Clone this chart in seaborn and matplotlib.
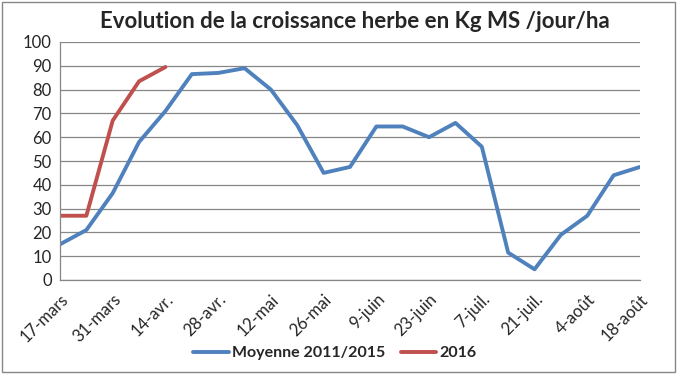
import numpy as np
import pandas as pd
import matplotlib
matplotlib.use("Agg")
import matplotlib.pyplot as plt
import seaborn as sns
from matplotlib.patches import Rectangle

# weekly dates, 17 March -> 18 August
semaines = ["17-mars", "24-mars", "31-mars", "7-avr.", "14-avr.", "21-avr.", "28-avr.",
            "5-mai", "12-mai", "19-mai", "26-mai", "2-juin", "9-juin", "16-juin",
            "23-juin", "30-juin", "7-juil.", "14-juil.", "21-juil.", "28-juil.",
            "4-août", "11-août", "18-août"]
moyenne = [15, 21, 36.5, 58, 71, 86.5, 87, 89, 80, 65, 45, 47.5, 64.5, 64.5,
           60, 66, 56, 11.5, 4.5, 19, 27, 44, 47.5]
annee_2016 = [27, 27, 67, 83.5, 89.5]

df = pd.concat([
    pd.DataFrame({"semaine": np.arange(len(moyenne)), "valeur": moyenne,
                  "serie": "Moyenne 2011/2015"}),
    pd.DataFrame({"semaine": np.arange(len(annee_2016)), "valeur": annee_2016,
                  "serie": "2016"}),
])

sns.set_style("white")
plt.rcParams["font.family"] = ["Lato", "DejaVu Sans"]

fig = plt.figure(figsize=(6.81, 3.82), dpi=100)
ax = fig.add_axes([60 / 681, 102 / 382, 580 / 681, 238 / 382])

sns.lineplot(data=df, x="semaine", y="valeur", hue="serie",
             palette={"Moyenne 2011/2015": "#4F81BD", "2016": "#C0504D"},
             linewidth=2.8, ax=ax, legend=True)

ax.set_xlim(0, len(semaines) - 1)
ax.set_ylim(0, 100)
ax.set_yticks(range(0, 101, 10))
ax.yaxis.grid(True, color="#878787", linewidth=0.9)
ax.set_axisbelow(True)
ax.set_xticks(range(0, len(semaines), 2))
ax.set_xticklabels(semaines[::2], rotation=45, ha="right", rotation_mode="anchor")
ax.tick_params(axis="x", direction="out", length=4, color="#878787", labelsize=12, pad=4)
ax.tick_params(axis="y", length=0, labelsize=12, pad=6)
ax.set_xlabel("")
ax.set_ylabel("")
for s in ["top", "right"]:
    ax.spines[s].set_visible(False)
for s in ["left", "bottom"]:
    ax.spines[s].set_color("#878787")
    ax.spines[s].set_linewidth(0.9)

leg = ax.legend(loc="center", bbox_to_anchor=(335 / 681, 1 - 353 / 382),
                bbox_transform=fig.transFigure, ncol=2, frameon=False,
                handlelength=2.2, columnspacing=1.0, handletextpad=0.2,
                prop={"weight": "bold", "size": 11.5})

fig.text(355 / 681, 1 - 22 / 382, "Evolution de la croissance herbe en Kg MS /jour/ha",
         ha="center", va="center", fontsize=16, fontweight="bold")

fig.patches.append(Rectangle((2 / 681, 10 / 382), 673 / 681, 370 / 382,
                             transform=fig.transFigure, fill=False,
                             edgecolor="#878787", linewidth=1))

fig.savefig("out.png", dpi=100)
